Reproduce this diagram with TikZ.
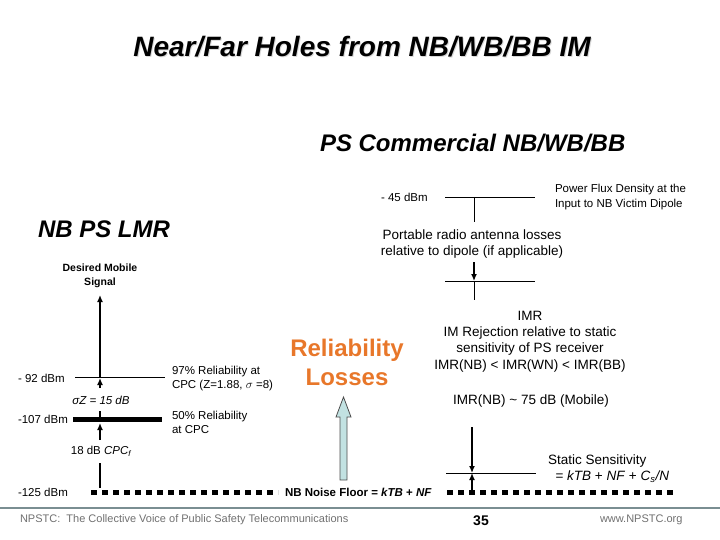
\documentclass[tikz,border=0pt]{standalone}
\usepackage{fontspec}
\setmainfont{Liberation Sans}
\usetikzlibrary{arrows.meta}
\definecolor{relor}{HTML}{E8772A}
\definecolor{footgray}{HTML}{7A8E92}
\definecolor{txtgray}{HTML}{707070}
\definecolor{arrowblue}{HTML}{C2E2E2}
\begin{document}
\begin{tikzpicture}[x=1pt,y=-1pt,
  every node/.style={inner sep=0pt,outer sep=0pt},
  lbl/.style={font=\fontsize{11.5}{14.5}\selectfont},
  mid/.style={font=\fontsize{13.5}{16.2}\selectfont,align=center},
  hdr/.style={font=\fontsize{24}{28}\selectfont\bfseries\itshape},
  thin/.style={line width=0.9pt},
  arr/.style={line width=1.3pt,-{Latex[length=7pt,width=6pt]}},
  dots/.style={line width=5pt,dash pattern=on 6pt off 5pt},
  foot/.style={font=\fontsize{11}{12}\selectfont,text=txtgray}]
\useasboundingbox (0,0) rectangle (720,540);

% titles
\node[font=\fontsize{28}{32}\selectfont\bfseries\itshape,text=black!15] (titleshadow) at (363,48) {Near/Far Holes from NB/WB/BB IM};
\node[font=\fontsize{28}{32}\selectfont\bfseries\itshape] (title) at (362,47) {Near/Far Holes from NB/WB/BB IM};
\node[hdr,anchor=west] (ps) at (320,143) {PS Commercial NB/WB/BB};
\node[hdr,anchor=west] (nb) at (38,229) {NB PS LMR};

% right column
\node[lbl,anchor=west] (m45) at (381,197) {- 45 dBm};
\coordinate (pl) at (445,197); \coordinate (pr) at (535,197);
\draw[thin] (pl) -- (pr);
\coordinate (pa) at (474,197); \coordinate (pb) at (474,222);
\draw[thin] (pa) -- (pb);
\node[lbl,align=left,anchor=west] (pfd) at (555,197) {Power Flux Density at the\\Input to NB Victim Dipole};
\node[mid] (port) at (472,244) {Portable radio antenna losses\\relative to dipole (if applicable)};
\coordinate (da) at (474,262); \coordinate (db) at (474,281); \coordinate (dc) at (474,300);
\draw[arr] (da) -- (db);
\draw[thin] (db) -- (dc);
\coordinate (dl) at (445,281); \coordinate (dr) at (535,281);
\draw[thin] (dl) -- (dr);
\node[mid] (imr) at (530,341.5) {IMR\\IM Rejection relative to static\\sensitivity of PS receiver\\IMR(NB) < IMR(WN) < IMR(BB)};
\node[mid] (imr75) at (531,401) {IMR(NB) \textasciitilde{} 75 dB (Mobile)};
\coordinate (sa) at (472,427); \coordinate (sb) at (472,473); \coordinate (sc) at (472,492);
\draw[arr] (sa) -- (sb);
\draw[arr] (sc) -- (sb);
\coordinate (sl) at (446,473); \coordinate (sr) at (536,473);
\draw[thin] (sl) -- (sr);
\node[mid,anchor=west,align=left] (static) at (548,468.5) {Static Sensitivity\\\ \ = \textit{kTB} + \textit{NF} + \textit{C\textsubscript{s}/N}};

% noise floor
\node[lbl,font=\fontsize{11.5}{14}\selectfont\bfseries,anchor=west] (nf) at (285,492) {NB Noise Floor = \textit{kTB} + \textit{NF}};
\coordinate (nl) at (91,492); \coordinate (nm) at (278,492);
\coordinate (nr1) at (447,492); \coordinate (nr2) at (674,492);
\draw[dots] (nl) -- (nm);
\draw[dots] (nr1) -- (nr2);
\node[lbl,anchor=west] (m125) at (18,492) {-125 dBm};

% left column
\node[font=\fontsize{10.5}{14}\selectfont\bfseries,align=center] (des) at (100,275.5) {Desired Mobile\\Signal};
\node[lbl,anchor=west] (m92) at (18,378) {- 92 dBm};
\coordinate (gl) at (75,377); \coordinate (gr) at (165,377);
\draw[thin] (gl) -- (gr);
\node[lbl,anchor=west] (m107) at (18,419) {-107 dBm};
\coordinate (hl) at (73,419); \coordinate (hr) at (162,419);
\draw[line width=5pt] (hl) -- (hr);
\node[lbl,anchor=west,align=left] (r97) at (172,378.5) {97\% Reliability at\\CPC (Z=1.88, $\sigma$ =8)};
\node[lbl,anchor=west,align=left] (r50) at (172,422.5) {50\% Reliability\\at CPC};
\node[lbl] (sig) at (101,400) {\textit{σZ = 15 dB}};
\node[lbl] (cpc) at (101,451) {18 dB \textit{CPC\textsubscript{f}}};
\coordinate (v0) at (100,295); \coordinate (v1) at (100,377);
\coordinate (v2) at (100,388); \coordinate (v3) at (100,378);
\coordinate (v4) at (100,411); \coordinate (v5) at (100,419);
\coordinate (v6) at (100,440); \coordinate (v7) at (100,423);
\coordinate (v8) at (100,463); \coordinate (v9) at (100,488);
\draw[arr] (v1) -- (v0);
\draw[arr] (v2) -- (v3);
\draw[line width=1.3pt] (v4) -- (v5);
\draw[arr] (v6) -- (v7);
\draw[line width=1.3pt] (v8) -- (v9);

% reliability losses
\node[hdr,font=\fontsize{24}{29}\selectfont\bfseries,text=relor,align=center] (rel) at (347,362) {Reliability\\Losses};
\draw[fill=arrowblue,draw=black!70,line width=0.8pt] (340,480) -- (340,417) -- (336,417) -- (343.5,397) -- (351,417) -- (347,417) -- (347,480) -- cycle;

% footer
\coordinate (fl) at (0,508); \coordinate (fr) at (720,508);
\draw[footgray,line width=2.5pt] (fl) -- (fr);
\node[foot,anchor=west] (f1) at (20,520) {NPSTC:\ \ The Collective Voice of Public Safety Telecommunications};
\node[font=\fontsize{14}{16}\selectfont\bfseries] (pg) at (481,521) {35};
\node[foot,anchor=west] (f2) at (600,520) {www.NPSTC.org};
\end{tikzpicture}
\end{document}
